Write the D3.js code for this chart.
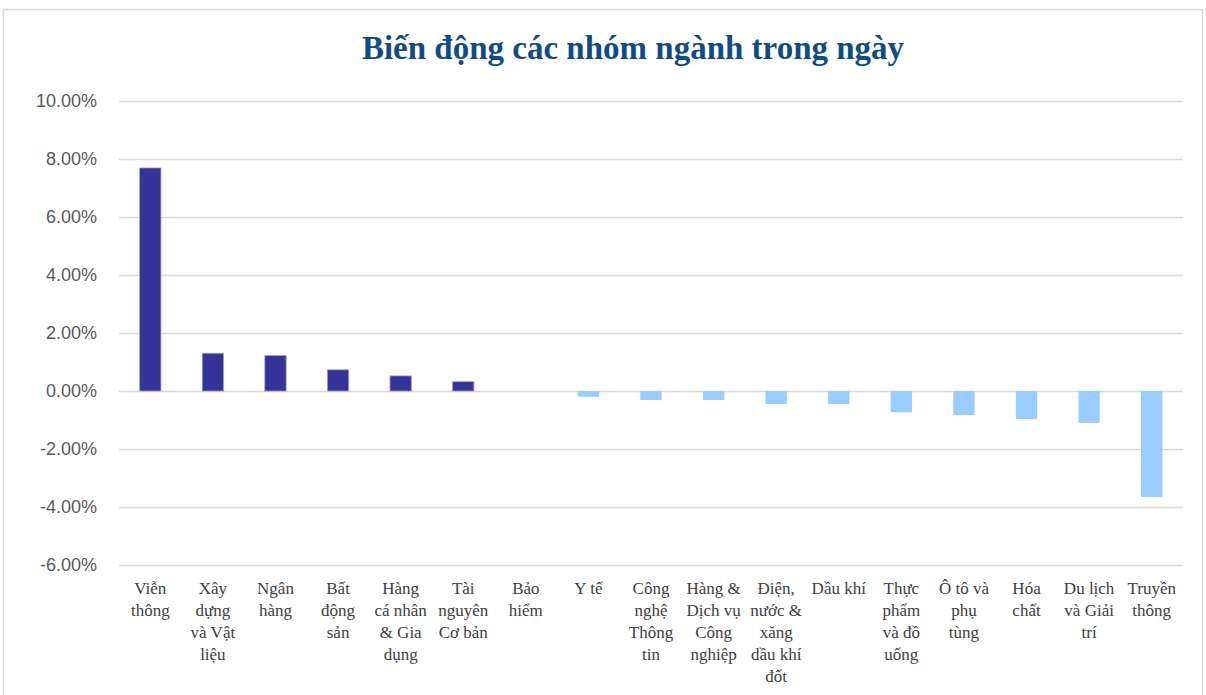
<!DOCTYPE html>
<html>
<head>
<meta charset="utf-8">
<script src="https://cdn.jsdelivr.net/npm/d3@7/dist/d3.min.js"></script>
<style>
  body { margin: 0; background: #fff; }
  svg { display: block; }
</style>
</head>
<body>
<svg id="chart" width="1206" height="695"></svg>
<script>
// DATA
const categories = [
  "Viễn thông", "Xây dựng và Vật liệu", "Ngân hàng", "Bất động sản",
  "Hàng cá nhân & Gia dụng", "Tài nguyên Cơ bản", "Bảo hiểm", "Y tế",
  "Công nghệ Thông tin", "Hàng & Dịch vụ Công nghiệp", "Điện, nước & xăng dầu khí đốt",
  "Dầu khí", "Thực phẩm và đồ uống", "Ô tô và phụ tùng", "Hóa chất",
  "Du lịch và Giải trí", "Truyền thông"
];
const changes = [
  7.69, 1.30, 1.22, 0.73, 0.52, 0.32, 0.0, -0.20,
  -0.31, -0.31, -0.45, -0.45, -0.73, -0.83, -0.97, -1.10, -3.66
];
// wrapped label lines as shown under each bar
const tickLines = [
  ["Viễn", "thông"], ["Xây", "dựng", "và Vật", "liệu"], ["Ngân", "hàng"], ["Bất", "động", "sản"],
  ["Hàng", "cá nhân", "& Gia", "dụng"], ["Tài", "nguyên", "Cơ bản"], ["Bảo", "hiểm"], ["Y tế"],
  ["Công", "nghệ", "Thông", "tin"], ["Hàng &", "Dịch vụ", "Công", "nghiệp"],
  ["Điện,", "nước &", "xăng", "dầu khí", "đốt"], ["Dầu khí"], ["Thực", "phẩm", "và đồ", "uống"],
  ["Ô tô và", "phụ", "tùng"], ["Hóa", "chất"], ["Du lịch", "và Giải", "trí"], ["Truyền", "thông"]
];
const yTicks = [10, 8, 6, 4, 2, 0, -2, -4, -6];
const title = "Biến động các nhóm ngành trong ngày";

const data = categories.map((c, i) => ({ name: c, value: changes[i], lines: tickLines[i] }));

const width = 1206, height = 695;
const margin = { top: 101, right: 23, bottom: 130, left: 119 };

const svg = d3.select("svg#chart");

// outer frame
svg.append("rect")
  .attr("x", 3.5).attr("y", 9.5)
  .attr("width", 1199).attr("height", 700)
  .attr("fill", "#fff").attr("stroke", "#d9d9d9").attr("stroke-width", 1.5);

// SCALES
const xScale = d3.scaleBand()
  .domain(categories)
  .range([margin.left, width - margin.right])
  .paddingInner(0.66).paddingOuter(0.33);

const yScale = d3.scaleLinear()
  .domain([-6, 10])
  .range([565, margin.top]);

// GRID
const yAxis = g => g.attr("transform", `translate(${margin.left},0)`)
  .call(d3.axisLeft(yScale)
    .tickValues(yTicks)
    .tickSize(-(width - margin.right - margin.left))
    .tickPadding(22)
    .tickFormat(d => d.toFixed(2) + "%"))
  .call(g => g.select(".domain").remove())
  .call(g => g.selectAll(".tick line").attr("stroke", "#d9d9d9").attr("stroke-width", 1.5))
  .call(g => g.selectAll(".tick text")
    .attr("fill", "#595959")
    .attr("font-family", "'Liberation Sans', Arial, sans-serif")
    .attr("font-size", 18));

svg.append("g").call(yAxis);

// BARS
svg.append("g")
  .selectAll("rect")
  .data(data)
  .join("rect")
  .attr("x", d => xScale(d.name))
  .attr("width", xScale.bandwidth())
  .attr("y", d => yScale(Math.max(0, d.value)))
  .attr("height", d => Math.abs(yScale(d.value) - yScale(0)))
  .attr("fill", d => d.value >= 0 ? "#333399" : "#99ccff")
  .attr("stroke", d => d.value >= 0 ? "#9a9acc" : "none")
  .attr("stroke-width", 0.8);

// X LABELS
const labels = svg.append("g")
  .selectAll("text")
  .data(data)
  .join("text")
  .attr("text-anchor", "middle")
  .attr("font-family", "'Liberation Serif', 'DejaVu Serif', serif")
  .attr("font-size", 17)
  .attr("fill", "#404040")
  .attr("transform", d => `translate(${xScale(d.name) + xScale.bandwidth() / 2},594)`);

labels.selectAll("tspan")
  .data(d => d.lines)
  .join("tspan")
  .attr("x", 0)
  .attr("y", (d, i) => i * 22)
  .text(d => d);

// TITLE
svg.append("text")
  .attr("x", 633).attr("y", 59)
  .attr("text-anchor", "middle")
  .attr("font-family", "'Liberation Serif', 'DejaVu Serif', serif")
  .attr("font-weight", "bold")
  .attr("font-size", 33)
  .attr("fill", "#0f4c85")
  .text(title);
</script>
</body>
</html>
